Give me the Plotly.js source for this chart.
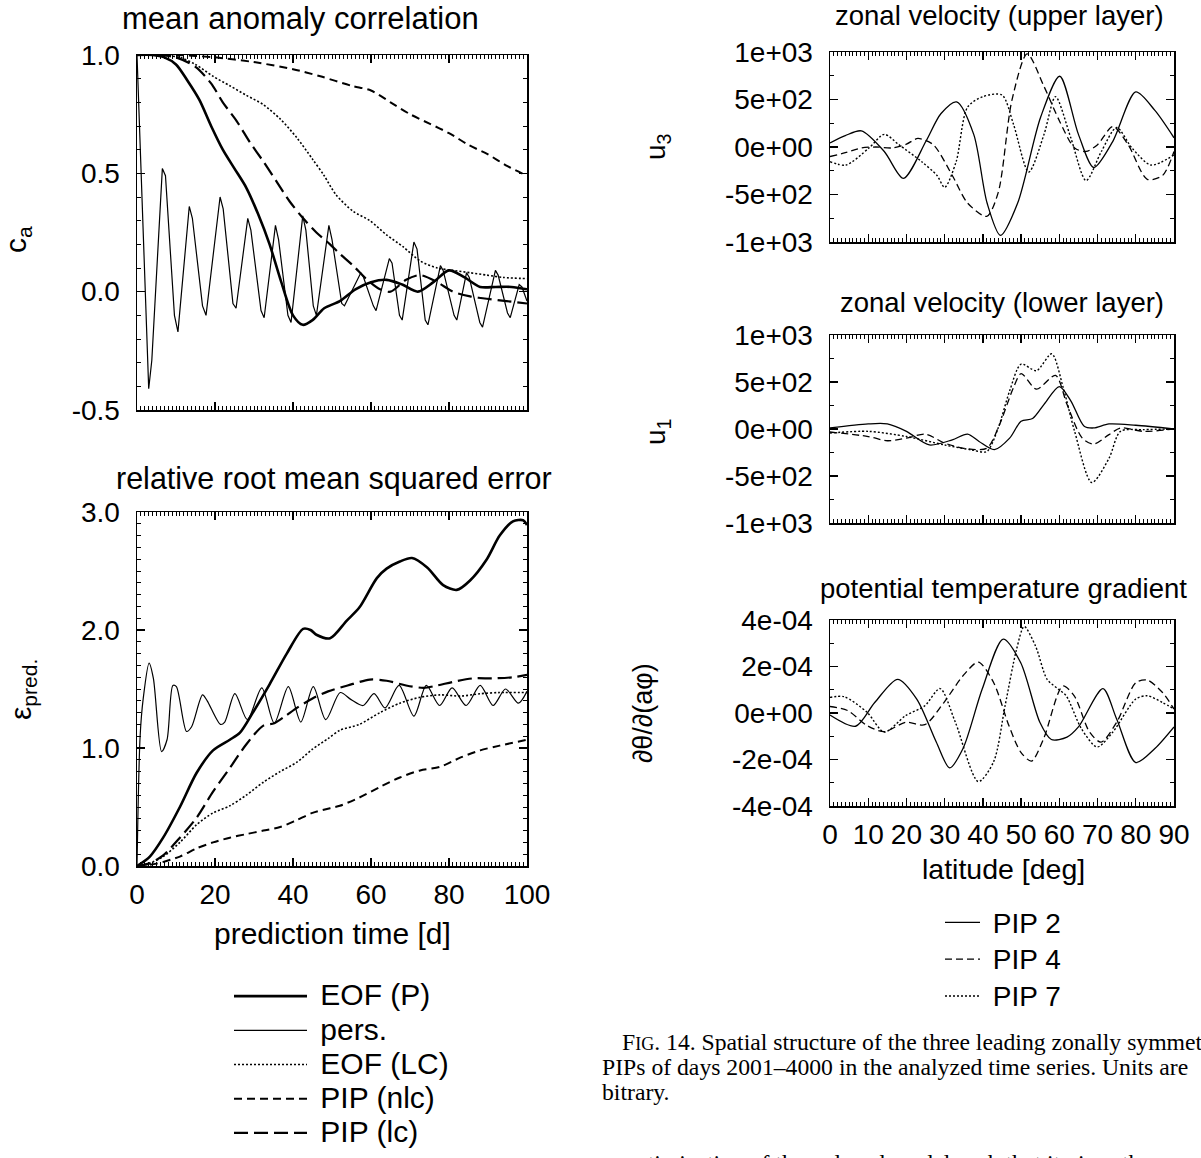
<!DOCTYPE html>
<html>
<head>
<meta charset="utf-8">
<script src="https://cdn.plot.ly/plotly-3.0.1.min.js"></script>
<style>
  html, body { margin: 0; padding: 0; background: #fff; width: 1201px; height: 1158px; overflow: hidden; }
  #chart { position: absolute; left: 0; top: 0; width: 1201px; height: 1158px; }
</style>
</head>
<body>
<div id="chart"></div>
<script>
// ---------------- DATA ----------------
// Left column: prediction time [d]
// mean anomaly correlation
const caEofP_t = [0, 4, 7, 10, 13, 16, 19, 22, 25, 28, 31, 34, 37, 40, 42.5, 45, 48, 52, 56, 60, 64, 68, 72, 76, 80, 84, 88, 92, 96, 100];
const caEofP   = [1.0, 1.0, 0.99, 0.96, 0.89, 0.81, 0.7, 0.6, 0.52, 0.44, 0.33, 0.2, 0.04, -0.1, -0.14, -0.12, -0.07, -0.04, 0.01, 0.04, 0.05, 0.03, 0.0, 0.04, 0.09, 0.06, 0.02, 0.02, 0.02, 0.01];

const caPers_t = [0, 3, 3.8, 6.5, 7.3, 9.6, 10.5, 13.4, 14.2, 16.8, 17.7, 21.3, 22.1, 24.6, 25.4, 28.4, 29.2, 31.8, 32.6, 35.5, 36.3, 38.7, 39.5, 42.5, 43.3, 45.2, 46.0, 49.2, 50.0, 52.5, 53.2, 57.4, 58.1, 60.6, 61.3, 64.7, 65.4, 67.3, 68.0, 71.0, 71.8, 73.9, 74.6, 77.8, 78.5, 81.3, 82.0, 84.5, 85.2, 87.9, 88.6, 91.9, 92.6, 95.0, 95.7, 98.0, 98.7, 100];
const caPers   = [1.0, -0.41, -0.29, 0.52, 0.49, -0.10, -0.17, 0.36, 0.31, -0.06, -0.10, 0.40, 0.35, -0.05, -0.07, 0.31, 0.26, -0.08, -0.11, 0.28, 0.22, -0.10, -0.13, 0.32, 0.26, -0.06, -0.10, 0.28, 0.22, -0.05, -0.06, 0.08, 0.06, -0.06, -0.08, 0.14, 0.12, -0.10, -0.12, 0.21, 0.18, -0.12, -0.14, 0.11, 0.09, -0.10, -0.12, 0.08, 0.06, -0.13, -0.15, 0.09, 0.07, -0.09, -0.11, 0.03, 0.02, -0.04];

const caEofLC_t = [0, 5, 11, 15, 19.5, 23.8, 28, 32.4, 36.7, 41, 45, 48, 51, 55.4, 59.7, 64, 68.2, 72.6, 77, 81, 85.4, 89.7, 94, 100];
const caEofLC   = [1.0, 1.0, 0.99, 0.96, 0.91, 0.87, 0.83, 0.79, 0.73, 0.65, 0.56, 0.49, 0.41, 0.34, 0.3, 0.24, 0.19, 0.13, 0.1, 0.09, 0.08, 0.07, 0.06, 0.055];

const caPipNlc_t = [0, 10, 20, 30, 40, 47, 55, 60, 65, 70, 75, 80, 85, 90, 95, 100];
const caPipNlc   = [1.0, 1.0, 0.99, 0.97, 0.94, 0.91, 0.87, 0.85, 0.80, 0.75, 0.71, 0.67, 0.62, 0.58, 0.53, 0.49];

const caPipLc_t = [0, 5, 10, 15, 19, 22, 25.6, 29, 32.4, 36, 39.2, 42.6, 46, 49.5, 52, 55.4, 59, 62.3, 65, 69, 72.6, 77, 81, 85.4, 89.7, 94.8, 100];
const caPipLc   = [1.0, 1.0, 0.99, 0.95, 0.88, 0.8, 0.72, 0.63, 0.55, 0.46, 0.38, 0.31, 0.25, 0.2, 0.16, 0.11, 0.05, 0.01, 0.0, 0.05, 0.07, 0.04, 0.0, -0.02, -0.03, -0.04, -0.05];

// relative root mean squared error
const erEofP_t = [0, 3.3, 6.7, 11, 15.3, 19.5, 23.8, 26.4, 29.7, 34, 38.4, 42.6, 44.5, 46, 49.5, 53.8, 57, 61.5, 64, 67.4, 70.5, 74.4, 78.5, 82, 85.4, 89.7, 93, 96.4, 99, 100];
const erEofP   = [0, 0.08, 0.24, 0.5, 0.79, 0.98, 1.07, 1.13, 1.3, 1.54, 1.8, 2.01, 2.0, 1.96, 1.93, 2.08, 2.19, 2.44, 2.52, 2.58, 2.61, 2.53, 2.38, 2.34, 2.42, 2.6, 2.8, 2.92, 2.93, 2.89];

const erPers_t = [0, 0.8, 1.6, 3.1, 4.2, 6.3, 7.7, 9.2, 10.1, 12.7, 14, 16.8, 18, 21.4, 22.5, 25.1, 28.3, 32, 35.2, 38.8, 42, 45.2, 48.4, 52.1, 54.9, 58, 60.8, 63.6, 67.2, 71, 74.2, 77.6, 80.8, 84.4, 88, 91.3, 94.5, 97.8, 100];
const erPers   = [0, 1.1, 1.42, 1.72, 1.59, 0.97, 1.07, 1.53, 1.52, 1.14, 1.18, 1.45, 1.40, 1.2, 1.22, 1.46, 1.24, 1.51, 1.21, 1.52, 1.22, 1.52, 1.24, 1.47, 1.41, 1.36, 1.46, 1.34, 1.53, 1.27, 1.53, 1.36, 1.51, 1.36, 1.53, 1.36, 1.50, 1.38, 1.48];

const erEofLC_t = [0, 3, 6.7, 11, 15.3, 19.5, 23.8, 28, 32.4, 36.7, 41, 45, 49, 52, 57, 62.3, 67.4, 72.6, 77.7, 83, 88, 93, 100];
const erEofLC   = [0, 0.02, 0.08, 0.2, 0.35, 0.45, 0.51, 0.6, 0.71, 0.8, 0.88, 0.99, 1.08, 1.15, 1.2, 1.3, 1.38, 1.43, 1.45, 1.44, 1.46, 1.47, 1.47];

const erPipNlc_t = [0, 5, 11, 15.3, 19.5, 23.8, 28, 32.4, 36.7, 41, 45, 49.5, 52, 57, 62.3, 67.4, 72.6, 77.7, 83, 88, 93, 100];
const erPipNlc   = [0, 0.02, 0.08, 0.15, 0.2, 0.24, 0.27, 0.3, 0.33, 0.39, 0.45, 0.49, 0.51, 0.58, 0.67, 0.75, 0.81, 0.84, 0.92, 0.98, 1.02, 1.07];

const erPipLc_t = [0, 3, 6.7, 11, 15.3, 19.5, 23.8, 28, 32.4, 35.2, 38, 41, 45, 49, 54, 59.7, 64, 69, 73.5, 77, 81, 86.2, 91.3, 96.4, 100];
const erPipLc   = [0, 0.02, 0.09, 0.24, 0.41, 0.63, 0.83, 1.03, 1.19, 1.21, 1.27, 1.34, 1.42, 1.48, 1.53, 1.58, 1.57, 1.53, 1.51, 1.53, 1.56, 1.59, 1.59, 1.60, 1.62];

// Right column: latitude [deg]
const u3Pip2_lat = [0, 4, 8.2, 14.2, 19.2, 25.1, 29, 33.1, 37.6, 41.1, 44.6, 49.1, 55.1, 60.1, 65, 69, 74, 80, 85, 90];
const u3Pip2     = [43, 120, 170, -47, -330, 60, 350, 475, 133, -590, -930, -590, 313, 745, 133, -216, 60, 580, 385, 97];
const u3Pip4_lat = [0, 4, 8.2, 12, 16.2, 20, 23, 27, 32, 36, 41, 44, 47.6, 51.6, 56, 60, 64, 67, 70, 74, 78, 83, 87, 90];
const u3Pip4     = [-100, -60, -10, 0, -10, 30, 90, 25, -300, -590, -730, -480, 493, 980, 637, 277, -10, -47, 25, 215, 25, -340, -300, -47];
const u3Pip7_lat = [0, 4.2, 10.2, 14.2, 18, 24, 28, 30, 33, 36, 40, 45, 48, 52, 56, 59, 63, 67, 71, 75, 79, 84, 90];
const u3Pip7     = [-155, -190, -10, 133, 25, -155, -300, -425, -155, 420, 530, 547, 240, -263, 133, 530, 97, -353, -47, 205, -10, -190, -83];

const u1Pip2_lat = [0, 10, 15, 20, 26, 32, 36, 39, 43, 47, 50, 53, 56, 60, 63, 66.5, 69, 73, 80, 90];
const u1Pip2     = [11, 54, 54, -25, -170, -115, -54, -133, -220, -97, 83, 111, 262, 450, 300, 29, 11, 54, 40, 0];
const u1Pip4_lat = [0, 10, 15, 20, 25, 30, 35, 41, 44, 48, 50, 54, 59, 62, 66, 69, 73, 76, 82, 90];
const u1Pip4     = [-32, -80, -125, -97, -55, -150, -205, -205, 11, 440, 590, 424, 570, 262, -97, -160, -60, 11, -25, 0];
const u1Pip7_lat = [0, 10, 20, 30, 37, 41, 44, 47, 50, 54, 58, 61, 64, 68.5, 73, 76, 82, 90];
const u1Pip7     = [-43, -25, -80, -170, -222, -240, 11, 405, 690, 620, 800, 441, -25, -570, -312, -25, -7, 0];

const ptPip2_lat = [0, 6.7, 11.7, 17.7, 22.7, 27.8, 31.3, 34.8, 39.8, 45.3, 49.9, 54.9, 57.9, 62, 65, 71.4, 75, 80, 85, 90];
const ptPip2     = [-0.09e-4, -0.57e-4, 0.45e-4, 1.45e-4, 0.6e-4, -1.25e-4, -2.36e-4, -1.53e-4, 1.02e-4, 3.18e-4, 2.16e-4, -0.4e-4, -1.14e-4, -1.04e-4, -0.6e-4, 1.05e-4, -0.26e-4, -2.13e-4, -1.53e-4, -0.6e-4];
const ptPip4_lat = [0, 4.7, 9.7, 14.2, 19.8, 24.8, 29.8, 34.8, 38.8, 42.8, 46.8, 49.9, 52.7, 55.9, 60.9, 63.9, 67.9, 70.9, 75, 80, 83, 87, 90];
const ptPip4     = [0.28e-4, 0.1e-4, -0.54e-4, -0.8e-4, -0.4e-4, -0.5e-4, 0.45e-4, 1.6e-4, 2.19e-4, 1.31e-4, -0.54e-4, -1.68e-4, -2.07e-4, -1.1e-4, 1.16e-4, 0.74e-4, -0.82e-4, -1.25e-4, -0.4e-4, 1.3e-4, 1.42e-4, 0.88e-4, 0.17e-4];
const ptPip7_lat = [0, 3.7, 9.7, 14.2, 19.8, 24.8, 28.8, 32.8, 38.8, 42.8, 45.8, 48.8, 50.8, 53.8, 56.8, 59.8, 61.8, 65.8, 69.9, 74, 80, 83, 87, 90];
const ptPip7     = [0.67e-4, 0.7e-4, 0.03e-4, -0.82e-4, -0.11e-4, 0.31e-4, 1.05e-4, -0.4e-4, -2.95e-4, -2.1e-4, 0.31e-4, 2.73e-4, 3.72e-4, 2.87e-4, 1.45e-4, 1.02e-4, 0.74e-4, -0.68e-4, -1.46e-4, -0.82e-4, 0.6e-4, 0.74e-4, 0.45e-4, 0.17e-4];

// Tick labels and text
const timeTicks = [0, 20, 40, 60, 80, 100];
const timeTickText = ['0', '20', '40', '60', '80', '100'];
const caTicks = [-0.5, 0, 0.5, 1.0];
const caTickText = ['-0.5', '0.0', '0.5', '1.0'];
const erTicks = [0, 1, 2, 3];
const erTickText = ['0.0', '1.0', '2.0', '3.0'];
const latTicks = [0, 10, 20, 30, 40, 50, 60, 70, 80, 90];
const latTickText = ['0', '10', '20', '30', '40', '50', '60', '70', '80', '90'];
const uTicks = [-1000, -500, 0, 500, 1000];
const uTickText = ['-1e+03', '-5e+02', '0e+00', '5e+02', '1e+03'];
const ptTicks = [-4e-4, -2e-4, 0, 2e-4, 4e-4];
const ptTickText = ['-4e-04', '-2e-04', '0e+00', '2e-04', '4e-04'];

const leftNames = ['EOF (P)', 'pers.', 'EOF (LC)', 'PIP (nlc)', 'PIP (lc)'];
const rightNames = ['PIP 2', 'PIP 4', 'PIP 7'];

const captionLines = [
  'F<span style="font-size:18px">IG</span>. 14. Spatial structure of the three leading zonally symmet',
  'PIPs of days 2001–4000 in the analyzed time series. Units are',
  'bitrary.'
];
const bodyLine = 'optimization of the reduced model such that it gives the';

// ---------------- STYLE ----------------
const SANS = 'Liberation Sans, Arial, Helvetica, sans-serif';
const SERIF = 'Liberation Serif, Times New Roman, serif';
const W = 1201, H = 1158;
const px = v => v / W;
const py = v => 1 - v / H;

const leftStyles = [
  {width: 2.6, dash: 'solid', shape: 'spline'},
  {width: 1.2, dash: 'solid', shape: 'linear'},
  {width: 1.6, dash: '2px,2px', shape: 'spline'},
  {width: 2.0, dash: '8px,5px', shape: 'spline'},
  {width: 2.2, dash: '14px,6px', shape: 'spline'}
];
const rightStyles = [
  {width: 1.3, dash: 'solid'},
  {width: 1.3, dash: '7px,4px'},
  {width: 1.4, dash: '2px,2px'}
];

function legendLabel(name, size) {
  return '<span style="font-size:' + size + 'px">\u00a0' + name + '</span>';
}

function tr(x, y, xa, ya, name, st, legend, show) {
  return {
    type: 'scatter', mode: 'lines', x: x, y: y, xaxis: xa, yaxis: ya,
    name: name, legend: legend, showlegend: show,
    line: {color: '#000', width: st.width, dash: st.dash, shape: st.shape || 'spline', smoothing: 0.8},
    hoverinfo: 'skip'
  };
}

const traces = [];
const caX = [caEofP_t, caPers_t, caEofLC_t, caPipNlc_t, caPipLc_t];
const caY = [caEofP, caPers, caEofLC, caPipNlc, caPipLc];
for (let i = 0; i < 5; i++) traces.push(tr(caX[i], caY[i], 'x', 'y', legendLabel(leftNames[i], 30), leftStyles[i], 'legend', true));
const erX = [erEofP_t, erPers_t, erEofLC_t, erPipNlc_t, erPipLc_t];
const erY = [erEofP, erPers, erEofLC, erPipNlc, erPipLc];
for (let i = 0; i < 5; i++) {
  const st = Object.assign({}, leftStyles[i]);
  if (i === 1) st.shape = 'spline';
  traces.push(tr(erX[i], erY[i], 'x2', 'y2', leftNames[i], st, 'legend', false));
}
const rX = [[u3Pip2_lat, u3Pip4_lat, u3Pip7_lat], [u1Pip2_lat, u1Pip4_lat, u1Pip7_lat], [ptPip2_lat, ptPip4_lat, ptPip7_lat]];
const rY = [[u3Pip2, u3Pip4, u3Pip7], [u1Pip2, u1Pip4, u1Pip7], [ptPip2, ptPip4, ptPip7]];
for (let p = 0; p < 3; p++) {
  for (let i = 0; i < 3; i++) {
    traces.push(tr(rX[p][i], rY[p][i], 'x' + (p + 3), 'y' + (p + 3), p === 0 ? legendLabel(rightNames[i], 28) : rightNames[i], rightStyles[i], 'legend2', p === 0));
  }
}

function ax(o) {
  const minorBase = {ticks: 'inside', ticklen: 4, tickwidth: 1, tickcolor: '#000', showgrid: false, tickmode: 'linear'};
  const base = {
    showline: true, mirror: 'allticks', linecolor: '#000', linewidth: 1.5,
    ticks: 'inside', ticklen: 8, tickwidth: 1.3, tickcolor: '#000',
    showgrid: false, zeroline: false, fixedrange: true,
    tickmode: 'array', ticklabelstandoff: 4,
    tickfont: {family: SANS, size: 28, color: '#000'}
  };
  const r = Object.assign({}, base, o);
  r.minor = Object.assign({}, minorBase, o.minor || {});
  return r;
}

const L = [px(137), px(527)];
const R = [px(830), px(1174)];

const annots = [
  {text: 'mean anomaly correlation', x: px(300), y: py(18), font: {size: 31}},
  {text: 'relative root mean squared error', x: px(334), y: py(478), font: {size: 30.5}},
  {text: 'prediction time [d]', x: px(332), y: py(933), font: {size: 30}},
  {text: 'c<sub>a</sub>', x: px(18), y: py(240), textangle: -90, font: {size: 30}},
  {text: 'ε<sub>pred.</sub>', x: px(22), y: py(690), textangle: -90, font: {size: 30}},
  {text: 'zonal velocity (upper layer)', x: px(1000), y: py(16), font: {size: 27.5}},
  {text: 'zonal velocity (lower layer)', x: px(1002), y: py(302), font: {size: 27.5}},
  {text: 'potential temperature gradient', x: px(1003), y: py(588), font: {size: 27.5}},
  {text: 'latitude [deg]', x: px(1003), y: py(869), font: {size: 28.5}},
  {text: 'u<sub>3</sub>', x: px(657), y: py(147), textangle: -90, font: {size: 28}},
  {text: 'u<sub>1</sub>', x: px(657), y: py(432), textangle: -90, font: {size: 28}},
  {text: '∂θ/∂(aφ)', x: px(643), y: py(713), textangle: -90, font: {size: 27}},
  {text: captionLines[0], x: px(620), y: py(1042), xanchor: 'left', font: {family: SERIF, size: 23.7}},
  {text: captionLines[1], x: px(600), y: py(1067), xanchor: 'left', font: {family: SERIF, size: 23.7}},
  {text: captionLines[2], x: px(600), y: py(1092), xanchor: 'left', font: {family: SERIF, size: 23.7}},
  {text: bodyLine, x: px(622), y: py(1163), xanchor: 'left', font: {family: SERIF, size: 23.7}}
];

const layout = {
  width: W, height: H, autosize: false,
  margin: {l: 0, r: 0, t: 0, b: 0, pad: 0},
  paper_bgcolor: '#fff', plot_bgcolor: '#fff',
  font: {family: SANS, color: '#000'},
  xaxis: ax({domain: L, anchor: 'y', range: [0, 100], tickvals: timeTicks, ticktext: timeTickText, showticklabels: false, minor: {tick0: 0, dtick: 1}}),
  yaxis: ax({domain: [py(410), py(55)], anchor: 'x', range: [-0.5, 1.0], tickvals: caTicks, ticktext: caTickText, ticklabelstandoff: 10, minor: {tick0: 0, dtick: 0.1}}),
  xaxis2: ax({domain: L, anchor: 'y2', range: [0, 100], tickvals: timeTicks, ticktext: timeTickText, ticklabelstandoff: 3, minor: {tick0: 0, dtick: 1}}),
  yaxis2: ax({domain: [py(866), py(512)], anchor: 'x2', range: [0, 3], tickvals: erTicks, ticktext: erTickText, ticklabelstandoff: 10, minor: {tick0: 0, dtick: 0.1}}),
  xaxis3: ax({domain: R, anchor: 'y3', range: [0, 90], tickvals: latTicks, ticktext: latTickText, showticklabels: false, minor: {tick0: 0, dtick: 1}}),
  yaxis3: ax({domain: [py(242), py(52)], anchor: 'x3', range: [-1000, 1000], tickvals: uTicks, ticktext: uTickText, ticklabelstandoff: 10, minor: {tick0: 0, dtick: 250}}),
  xaxis4: ax({domain: R, anchor: 'y4', range: [0, 90], tickvals: latTicks, ticktext: latTickText, showticklabels: false, minor: {tick0: 0, dtick: 1}}),
  yaxis4: ax({domain: [py(523), py(335)], anchor: 'x4', range: [-1000, 1000], tickvals: uTicks, ticktext: uTickText, ticklabelstandoff: 10, minor: {tick0: 0, dtick: 250}}),
  xaxis5: ax({domain: R, anchor: 'y5', range: [0, 90], tickvals: latTicks, ticktext: latTickText, ticklabelstandoff: 3, minor: {tick0: 0, dtick: 1}}),
  yaxis5: ax({domain: [py(806), py(620)], anchor: 'x5', range: [-4e-4, 4e-4], tickvals: ptTicks, ticktext: ptTickText, ticklabelstandoff: 10, minor: {tick0: 0, dtick: 1e-4}}),
  legend: {
    x: px(229), y: py(974), xanchor: 'left', yanchor: 'top',
    font: {family: SANS, size: 24, color: '#000'},
    itemwidth: 73, tracegroupgap: 0, bgcolor: 'rgba(0,0,0,0)', borderwidth: 0,
    traceorder: 'normal', itemclick: false, itemdoubleclick: false
  },
  legend2: {
    x: px(940), y: py(899), xanchor: 'left', yanchor: 'top',
    font: {family: SANS, size: 26, color: '#000'},
    itemwidth: 35, tracegroupgap: 0, bgcolor: 'rgba(0,0,0,0)', borderwidth: 0,
    traceorder: 'normal', itemclick: false, itemdoubleclick: false
  },
  annotations: annots.map(a => Object.assign({xref: 'paper', yref: 'paper', showarrow: false, xanchor: 'center', yanchor: 'middle'}, a, {font: Object.assign({family: SANS, color: '#000'}, a.font)}))
};

Plotly.newPlot('chart', traces, layout, {staticPlot: true, displayModeBar: false, responsive: false});
</script>
</body>
</html>
